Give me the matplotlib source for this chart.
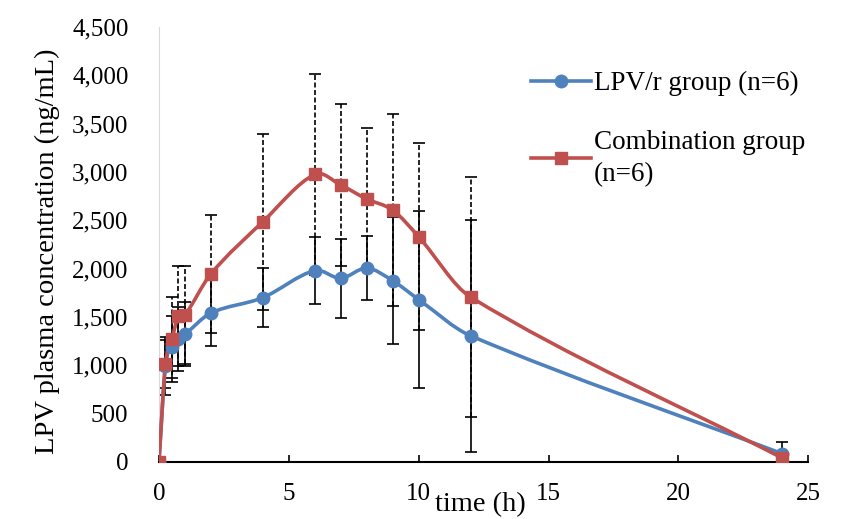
import matplotlib
matplotlib.use('Agg')
import matplotlib.pyplot as plt
from matplotlib.path import Path
from matplotlib.patches import PathPatch
from matplotlib.lines import Line2D
from matplotlib.ticker import FuncFormatter

# sampling times (h)
times = [0, 0.25, 0.5, 0.75, 1, 2, 4, 6, 7, 8, 9, 10, 12, 24]

# LPV/r group mean and SD (ng/mL)
lpv_mean = [0, 990, 1190, 1270, 1320, 1540, 1700, 1980, 1900, 2005, 1875, 1680, 1305, 85]
lpv_sd = [0, 300, 320, 330, 330, 340, 305, 350, 410, 330, 660, 920, 1200, 120]

# combination group mean and SD (ng/mL)
comb_mean = [0, 1010, 1270, 1510, 1520, 1945, 2485, 2975, 2865, 2720, 2605, 2330, 1705, 40]
comb_sd = [0, 250, 440, 520, 510, 610, 910, 1040, 840, 730, 995, 970, 1245, 30]

labels = ['LPV/r group (n=6)', 'Combination group\n(n=6)']
blue = '#4F81BD'
red = '#C0504D'

plt.rcParams['font.family'] = ['Liberation Serif', 'DejaVu Serif']


def smooth_path(xs, ys):
    # smoothed line as cubic bezier segments (hermite in x)
    n = len(xs)
    slopes = []
    for i in range(n):
        a = max(i - 1, 0)
        b = min(i + 1, n - 1)
        slopes.append((ys[b] - ys[a]) / (xs[b] - xs[a]))
    verts = [(xs[0], ys[0])]
    codes = [Path.MOVETO]
    for i in range(n - 1):
        h = (xs[i + 1] - xs[i]) / 3
        c1 = (xs[i] + h, ys[i] + slopes[i] * h)
        c2 = (xs[i + 1] - h, ys[i + 1] - slopes[i + 1] * h)
        verts += [c1, c2, (xs[i + 1], ys[i + 1])]
        codes += [Path.CURVE4] * 3
    return Path(verts, codes)


fig = plt.figure(figsize=(8.41, 5.19), dpi=100)
ax = fig.add_axes([0.189, 0.110, 0.772, 0.838])

# error bars
eb1 = ax.errorbar(times, lpv_mean, yerr=lpv_sd, fmt='none', ecolor='black',
                  elinewidth=1.2, capsize=4.5, capthick=1.2, zorder=2)
eb2 = ax.errorbar(times, comb_mean, yerr=comb_sd, fmt='none', ecolor='black',
                  elinewidth=1.2, capsize=4.5, capthick=1.2, zorder=2)
for lc in eb2[2]:
    lc.set_linestyle((0, (3, 1.5)))

# smoothed lines
ax.add_patch(PathPatch(smooth_path(times, lpv_mean), facecolor='none',
                       edgecolor=blue, lw=2.6, zorder=3))
ax.add_patch(PathPatch(smooth_path(times, comb_mean), facecolor='none',
                       edgecolor=red, lw=2.6, zorder=3))

# markers
ax.plot(times, lpv_mean, 'o', color=blue, ms=9, zorder=4)
ax.plot(times, comb_mean, 's', color=red, ms=8, zorder=5)

ax.set_xlim(0, 25)
ax.set_ylim(0, 4500)
ax.set_xticks([0, 5, 10, 15, 20, 25])
ax.set_yticks(range(0, 4501, 500))
ax.yaxis.set_major_formatter(FuncFormatter(lambda v, p: '{:,.0f}'.format(v)))

for s in ['top', 'right']:
    ax.spines[s].set_visible(False)
ax.spines['left'].set_color('#d9d9d9')
ax.spines['left'].set_linewidth(0.8)
ax.spines['bottom'].set_linewidth(1.5)
ax.tick_params(axis='x', direction='in', length=5, width=1.2, labelsize=18, pad=15)
ax.tick_params(axis='y', length=0, labelsize=18, pad=22)

fig.text(0.056, 0.516, 'LPV plasma concentration (ng/mL)', fontsize=20.5,
         rotation=90, ha='center', va='center')
fig.text(0.571, 0.027, 'time (h)', fontsize=20.5, ha='center', va='center')

handles = [Line2D([], [], color=blue, lw=2.6, marker='o', ms=9),
           Line2D([], [], color=red, lw=2.6, marker='s', ms=8)]
leg = ax.legend(handles, labels, loc='upper left', bbox_to_anchor=(0.603, 0.91),
                bbox_transform=fig.transFigure, frameon=False, fontsize=19.5,
                handlelength=2.2, handletextpad=0.1, labelspacing=1.25)
for t in leg.get_texts():
    t.set_linespacing(1.35)

fig.savefig('out.png', dpi=100)
